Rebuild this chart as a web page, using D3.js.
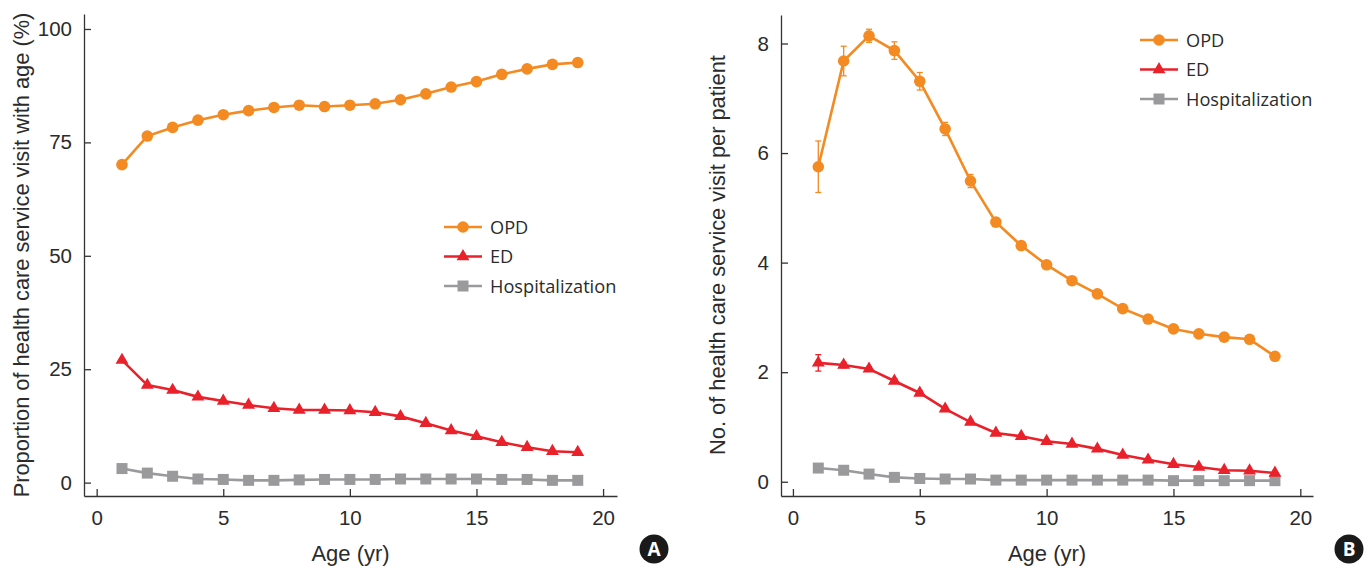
<!DOCTYPE html>
<html>
<head>
<meta charset="utf-8">
<script src="https://cdn.jsdelivr.net/npm/d3@7"></script>
<style>
  body { margin: 0; background: #fff; }
  svg { display: block; font-family: "Liberation Sans", Arial, sans-serif; }
</style>
</head>
<body>
<script>
const ages = d3.range(1, 20);

// Panel A: proportion (%) of patients with a visit, by age
const propOPD = [70.1, 76.4, 78.3, 79.9, 81.1, 82.0, 82.7, 83.2, 82.9, 83.2, 83.5, 84.4, 85.7, 87.2, 88.4, 90.0, 91.2, 92.2, 92.6];
const propED = [27.0, 21.5, 20.4, 18.9, 18.0, 17.1, 16.4, 16.0, 16.0, 15.9, 15.5, 14.6, 13.1, 11.5, 10.2, 8.9, 7.8, 6.9, 6.7];
const propHosp = [3.1, 2.1, 1.4, 0.8, 0.7, 0.5, 0.5, 0.6, 0.7, 0.7, 0.7, 0.8, 0.8, 0.8, 0.8, 0.7, 0.7, 0.5, 0.5];

// Panel B: visits per patient, by age (with error bars)
const perOPD = [5.75, 7.68, 8.14, 7.87, 7.31, 6.44, 5.49, 4.74, 4.31, 3.96, 3.67, 3.43, 3.16, 2.97, 2.79, 2.70, 2.64, 2.60, 2.29];
const perOPDErr = [0.47, 0.27, 0.12, 0.16, 0.16, 0.12, 0.12, 0.08, 0.06, 0.05, 0.04, 0.04, 0.03, 0.03, 0.03, 0.03, 0.03, 0.03, 0.03];
const perED = [2.17, 2.13, 2.06, 1.84, 1.62, 1.33, 1.09, 0.89, 0.83, 0.74, 0.69, 0.60, 0.49, 0.40, 0.32, 0.27, 0.21, 0.20, 0.16];
const perEDErr = [0.15, 0.05, 0.04, 0.04, 0.04, 0.03, 0.03, 0.03, 0.02, 0.02, 0.02, 0.02, 0.02, 0.01, 0.01, 0.01, 0.01, 0.01, 0.01];
const perHosp = [0.25, 0.21, 0.14, 0.08, 0.06, 0.05, 0.05, 0.03, 0.03, 0.03, 0.03, 0.03, 0.03, 0.03, 0.02, 0.02, 0.02, 0.02, 0.02];

const seriesNames = ["OPD", "ED", "Hospitalization"];
const xTicks = [0, 5, 10, 15, 20];
const yTicksA = [0, 25, 50, 75, 100];
const yTicksB = [0, 2, 4, 6, 8];

const colors = { OPD: "#f48a22", ED: "#e8212b", Hospitalization: "#9a9a9d" };
const textColor = "#2b2b2b";

const width = 1370, height = 566;
const svg = d3.select("body").append("svg")
  .attr("width", width)
  .attr("height", height);

function drawMarker(g, name, x, y) {
  if (name === "OPD") {
    g.append("circle").attr("cx", x).attr("cy", y).attr("r", 5.8).attr("fill", colors.OPD);
  } else if (name === "ED") {
    g.append("path")
      .attr("transform", `translate(${x},${y})`)
      .attr("d", d3.symbol(d3.symbolTriangle, 72)())
      .attr("fill", colors.ED);
  } else {
    g.append("rect").attr("x", x - 5.5).attr("y", y - 5.5).attr("width", 11).attr("height", 11).attr("fill", colors.Hospitalization);
  }
}

function panel(opts) {
  const g = svg.append("g");
  const x = d3.scaleLinear().domain(opts.xDomain).range(opts.xRange);
  const y = d3.scaleLinear().domain(opts.yDomain).range(opts.yRange);

  // axes (ticks point inward)
  const xAxis = g.append("g")
    .attr("transform", `translate(0,${opts.yRange[0]})`)
    .call(d3.axisBottom(x).tickValues(xTicks).tickSizeInner(-7).tickSizeOuter(0).tickPadding(14));
  const yAxis = g.append("g")
    .attr("transform", `translate(${opts.xRange[0]},0)`)
    .call(d3.axisLeft(y).tickValues(opts.yTicks).tickSizeInner(-7).tickSizeOuter(0).tickPadding(12));
  [xAxis, yAxis].forEach(a => {
    a.selectAll("path, line").attr("stroke", "#333").attr("stroke-width", 1.3);
    a.selectAll("text").attr("fill", textColor).style("font-size", "20.5px")
      .style("font-family", "'Liberation Sans', Arial, sans-serif");
  });

  // axis titles
  g.append("text")
    .attr("x", (opts.xRange[0] + opts.xRange[1]) / 2)
    .attr("y", 561)
    .attr("text-anchor", "middle")
    .attr("fill", textColor)
    .style("font-size", "22px")
    .text("Age (yr)");
  g.append("text")
    .attr("transform", `translate(${opts.yTitleX},${255}) rotate(-90)`)
    .attr("text-anchor", "middle")
    .attr("fill", textColor)
    .style("font-size", "21.8px")
    .text(opts.yTitle);

  // series: draw gray first, then red, then orange on top
  const order = [2, 1, 0];
  const line = d3.line().x((d, i) => x(ages[i])).y(d => y(d));
  order.forEach(k => {
    const name = seriesNames[k];
    const vals = opts.series[k];
    const sg = g.append("g");
    const err = opts.errors ? opts.errors[k] : null;
    if (err) {
      vals.forEach((v, i) => {
        const cx = x(ages[i]);
        const y0 = y(v - err[i]), y1 = y(v + err[i]);
        sg.append("line").attr("x1", cx).attr("x2", cx).attr("y1", y0).attr("y2", y1)
          .attr("stroke", colors[name]).attr("stroke-width", 1.3);
        [y0, y1].forEach(yy => sg.append("line")
          .attr("x1", cx - 3).attr("x2", cx + 3).attr("y1", yy).attr("y2", yy)
          .attr("stroke", colors[name]).attr("stroke-width", 1.3));
      });
    }
    sg.append("path")
      .datum(vals)
      .attr("d", line)
      .attr("fill", "none")
      .attr("stroke", colors[name])
      .attr("stroke-width", 2.6);
    vals.forEach((v, i) => drawMarker(sg, name, x(ages[i]), y(v)));
  });

  // legend
  const lg = g.append("g");
  seriesNames.forEach((name, i) => {
    const ly = opts.legendY + i * 29.5;
    lg.append("line")
      .attr("x1", opts.legendX).attr("x2", opts.legendX + 38)
      .attr("y1", ly).attr("y2", ly)
      .attr("stroke", colors[name]).attr("stroke-width", 2.6);
    drawMarker(lg, name, opts.legendX + 19, ly);
    lg.append("text")
      .attr("x", opts.legendX + 46)
      .attr("y", ly)
      .attr("dy", "0.36em")
      .attr("fill", textColor)
      .style("font-size", "18.2px")
      .style("font-family", "'Open Sans', 'Noto Sans', sans-serif")
      .text(name);
  });

  // panel badge
  const badge = g.append("g").attr("transform", `translate(${opts.badgeX},549)`);
  badge.append("circle").attr("r", 14.5).attr("fill", "#1a1a1a");
  badge.append("text")
    .attr("text-anchor", "middle")
    .attr("dy", "0.36em")
    .attr("fill", "#fff")
    .style("font-size", "19px")
    .style("font-weight", "bold")
    .style("font-family", "'Open Sans', 'Liberation Sans', sans-serif")
    .text(opts.badge);
}

panel({
  xDomain: [-0.5, 20.55], xRange: [84, 617],
  yDomain: [-2.95, 103.3], yRange: [496, 14],
  yTicks: yTicksA,
  yTitle: "Proportion of health care service visit with age (%)",
  yTitleX: 29,
  series: [propOPD, propED, propHosp],
  errors: null,
  legendX: 444, legendY: 227,
  badge: "A", badgeX: 654
});

panel({
  xDomain: [-0.47, 20.5], xRange: [781, 1313],
  yDomain: [-0.26, 8.52], yRange: [496, 15],
  yTicks: yTicksB,
  yTitle: "No. of health care service visit per patient",
  yTitleX: 725,
  series: [perOPD, perED, perHosp],
  errors: [perOPDErr, perEDErr, null],
  legendX: 1140, legendY: 40,
  badge: "B", badgeX: 1349
});
</script>
</body>
</html>
